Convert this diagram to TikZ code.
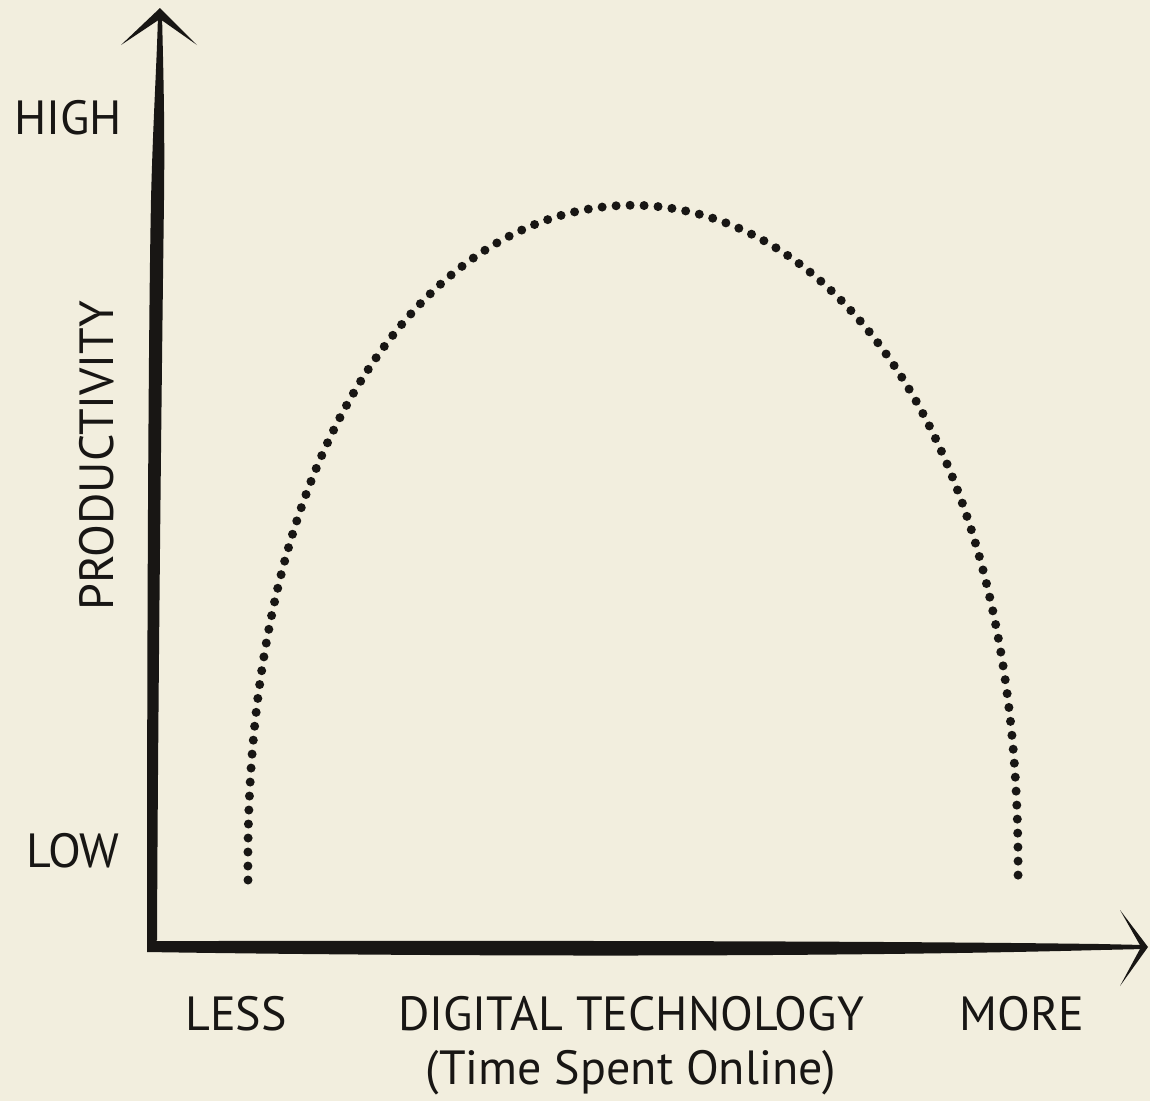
\documentclass[tikz,border=0pt]{standalone}
\usepackage{fontspec}
\setmainfont{PT Sans}
\definecolor{paper}{RGB}{242,238,222}
\definecolor{ink}{RGB}{24,22,20}

\begin{document}
\begin{tikzpicture}[x=1pt,y=-1pt,font=\fontsize{48}{56}\selectfont,text=ink]
        \tikzstyle{axislabel}=[inner sep=0pt,anchor=center]
        \tikzstyle{dots}=[draw=ink,line width=9pt,line cap=round,dash pattern=on 0pt off 14pt]

        \fill[paper] (0,0) rectangle (1150,1101);
        \useasboundingbox (0,0) rectangle (1150,1101);

        \coordinate (O)     at (152,946);
        \coordinate (ytop)  at (160,8);
        \coordinate (xend)  at (1148,947);
        \coordinate (start) at (248,880);
        \coordinate (stop)  at (1018,882);

        % vertical axis
        \fill[ink] (147,951) -- (147,930) .. controls (147,700) and (148,350) .. (151,200)
                   .. controls (153,120) and (157,60) .. (158,14) -- (162,14)
                   .. controls (163,60) and (165,120) .. (164,200)
                   .. controls (162,350) and (158,700) .. (157,940) -- cycle;
        \fill[ink] (121,45) -- (ytop) -- (197,45) -- (160,19) -- cycle;

        % horizontal axis
        \fill[ink] (O) ++(-5,-4) -- (147,952) .. controls (400,956) and (800,958) .. (1100,950)
                   -- (1144,949) -- (1144,945) -- (1100,944)
                   .. controls (800,940) and (400,941) .. (152,941) -- cycle;
        \fill[ink] (1120,910) -- (xend) -- (1120,986) -- (1141,947) -- cycle;

        % the curve
        \draw[dots] (start) .. controls (238,-20) and (1027,-20) .. (stop);

        % labels
        \node[axislabel] (high) at (68,118)  {HIGH};
        \node[axislabel] (low)  at (73,851)  {LOW};
        \node[axislabel,rotate=90] (prod) at (97,456) {PRODUCTIVITY};
        \node[axislabel] (less) at (236,1014) {LESS};
        \node[axislabel] (tech) at (631,1014) {DIGITAL TECHNOLOGY};
        \node[axislabel] (more) at (1022,1014) {MORE};
        \node[axislabel] (time) at (631,1073) {(Time Spent Online)};
    \end{tikzpicture}
\end{document}
